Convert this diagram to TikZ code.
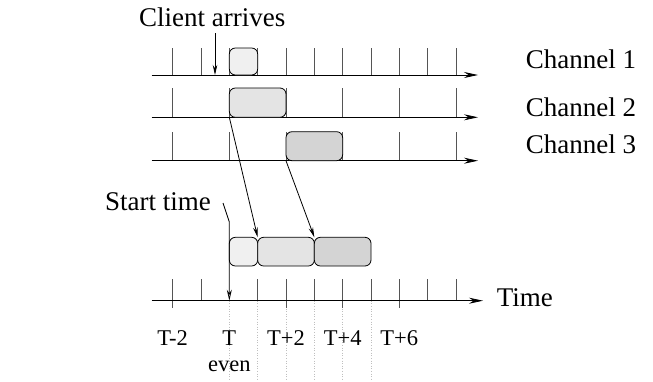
\documentclass[tikz,border=0pt]{standalone}
\usepackage{fontspec}
\setmainfont{Liberation Serif}
\usetikzlibrary{arrows.meta}

\definecolor{Slot1}{HTML}{F0F0F0}
\definecolor{Slot2}{HTML}{E4E4E4}
\definecolor{Slot3}{HTML}{D4D4D4}
\definecolor{Tick}{HTML}{555555}

\tikzset{
  lab/.style={font=\fontsize{27}{32}\selectfont, inner sep=0pt},
  tlab/.style={font=\fontsize{22.5}{27}\selectfont, inner sep=0pt, anchor=base},
  slot/.style={draw, rounded corners=6pt, line width=0.8pt, inner sep=0pt, outer sep=0pt, anchor=south west},
  tick/.style={line width=0.8pt, color=Tick},
  axis/.style={line width=0.8pt, -{Stealth[length=14pt, width=6pt]}},
  ptr/.style={line width=0.8pt, -{Stealth[length=10pt, width=4.5pt]}}
}

\begin{document}
\begin{tikzpicture}[x=1pt, y=-1pt]
\useasboundingbox (0,0) rectangle (653,381);

  %%%%%%%%%% Points pour travailler %%%%%%%%%%
  \coordinate (arrTop) at (215,33);
  \coordinate (arrBot) at (215,75);
  \coordinate (st0) at (223,203);
  \coordinate (st1) at (229.33,222);
  \coordinate (st2) at (229.33,300.7);

%%%%%%%%%% Dotted guides %%%%%%%%%%
\foreach \k in {2,...,7}
{
  \draw [dotted, line width=0.6pt, color=black!25] ({172.67+28.33*\k},300.7) -- ({172.67+28.33*\k},381);
}

%%%%%%%%%% Channel 1 %%%%%%%%%%
\foreach \k in {0,...,10}
{
  \draw [tick] ({172.67+28.33*\k},75) -- ++(0,-27);
}
\draw [axis] (151.7,75) -- (478,75);
\node (c1) [slot, fill=Slot1, minimum width=28.33pt, minimum height=27pt] at (229.33,75) {};

%%%%%%%%%% Channel 2 %%%%%%%%%%
\foreach \k in {0,2,...,10}
{
  \draw [tick] ({172.67+28.33*\k},117.3) -- ++(0,-29.3);
}
\draw [axis] (151.7,117.3) -- (478,117.3);
\node (c2) [slot, fill=Slot2, minimum width=56.67pt, minimum height=29.3pt] at (229.33,117.3) {};

%%%%%%%%%% Channel 3 %%%%%%%%%%
\foreach \k in {0,2,...,10}
{
  \draw [tick] ({172.67+28.33*\k},160.7) -- ++(0,-29);
}
\draw [axis] (151.7,160.7) -- (478,160.7);
\node (c3) [slot, fill=Slot3, minimum width=56.67pt, minimum height=29pt] at (285.99,160.7) {};

%%%%%%%%%% Time axis %%%%%%%%%%
\foreach \k in {1,3,5,7,9,10}
{
  \draw [tick] ({172.67+28.33*\k},300.7) -- ++(0,-21.4);
}
\foreach \k in {0,4,6,8}
{
  \draw [tick] ({172.67+28.33*\k},307.5) -- ++(0,-28.2);
}
\draw [axis] (151.7,300.7) -- (483,300.7);

%%%%%%%%%% Received segments %%%%%%%%%%
\node (b1) [slot, fill=Slot1, minimum width=28.33pt, minimum height=28.7pt] at (229.33,266) {};
\node (b2) [slot, fill=Slot2, minimum width=56.67pt, minimum height=28.7pt] at (257.66,266) {};
\node (b3) [slot, fill=Slot3, minimum width=56.67pt, minimum height=28.7pt] at (314.33,266) {};

%%%%%%%%%% Labels %%%%%%%%%%
\node (arrives) [lab, anchor=base west] at (139,26) {Client arrives};
\node (ch1) [lab, anchor=base west] at (525.7,68.3) {Channel 1};
\node (ch2) [lab, anchor=base west] at (525.7,116.7) {Channel 2};
\node (ch3) [lab, anchor=base west] at (525.7,153.3) {Channel 3};
\node (start) [lab, anchor=base west] at (105,210) {Start time};
\node (time) [lab, anchor=base west] at (496.7,306) {Time};

\node (tm2) [tlab] at (172.67,345) {T-2};
\node (t0) [tlab] at (229.33,345) {T};
\node (tp2) [tlab] at (286,345) {T+2};
\node (tp4) [tlab] at (342.67,345) {T+4};
\node (tp6) [tlab] at (399.33,345) {T+6};
\node (even) [tlab] at (229.33,371.7) {even};

%%%%%%%%%%% Pointers %%%%%%%%%%%
\draw [ptr] (arrTop) -- (arrBot);
\draw [ptr] (c2.south west) -- (b2.north west);
\draw [ptr] (c3.south west) -- (b3.north west);
\draw [line width=0.8pt, -{Stealth[open, length=11pt, width=5pt]}] (st0) -- (st1) -- (st2);

\end{tikzpicture}
\end{document}
